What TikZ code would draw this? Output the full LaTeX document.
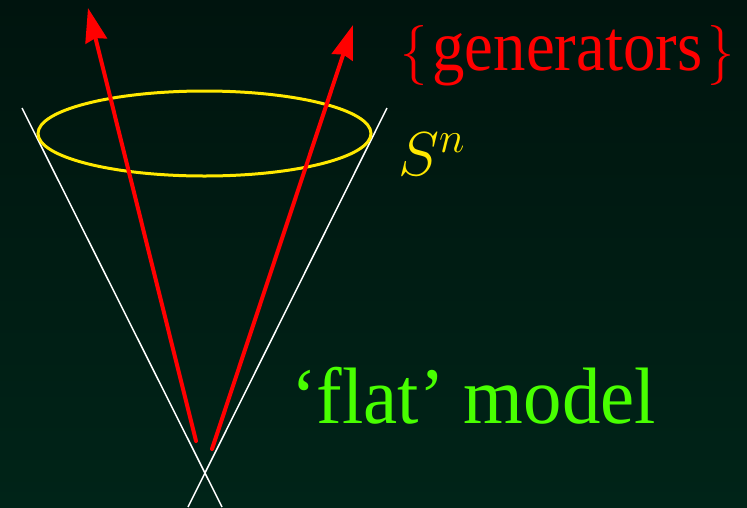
\documentclass[tikz,border=0pt]{standalone}
\usepackage{fix-cm}
\usepackage{fontspec}
\setmainfont{Liberation Serif}
\usetikzlibrary{arrows.meta}
\definecolor{bgtop}{RGB}{0,20,14}
\definecolor{bgbot}{RGB}{0,36,24}
\definecolor{genred}{RGB}{255,0,0}
\definecolor{sphyellow}{RGB}{255,232,0}
\definecolor{flatgreen}{RGB}{72,255,0}

\begin{document}
\begin{tikzpicture}[x=1pt,y=-1pt,
    cone/.style={white, line width=1.5pt},
    gen/.style={-{Stealth[length=34pt,width=22pt,inset=3pt]}, genred, line width=4pt, line cap=round},
    sphere/.style={sphyellow, line width=3pt},
    lbl/.style={anchor=base west, inner sep=0pt}
]
    % Background
    \shade[top color=bgtop, bottom color=bgbot] (0,0) rectangle (747,507);
    \useasboundingbox (0,0) rectangle (747,507);

    % Light cone
    \coordinate (c1top) at (22,108);
    \coordinate (c1bot) at (222,507);
    \coordinate (c2top) at (387,108);
    \coordinate (c2bot) at (188,507);
    \draw[cone] (c1top) -- (c1bot);
    \draw[cone] (c2top) -- (c2bot);

    % The sphere
    \draw[sphere] (204.5,133.5) ellipse [x radius=166.5pt, y radius=42.5pt];

    % Generators
    \coordinate (g1tail) at (196,441);
    \coordinate (g1tip) at (88,8);
    \coordinate (g2tail) at (212,449);
    \coordinate (g2tip) at (353,25);
    \draw[gen] (g1tail) -- (g1tip);
    \draw[gen] (g2tail) -- (g2tip);

    % Labels
    \node[lbl, genred, xscale=0.9, font=\fontsize{72}{80}\selectfont] (gens) at (400,70)
        {{\fontsize{60}{66}\selectfont$\{$}\kern6pt generators\kern6pt{\fontsize{60}{66}\selectfont$\}$}};
    \node[lbl, sphyellow, font=\fontsize{62}{70}\selectfont] (sn) at (398,175) {$S^n$};
    \node[lbl, flatgreen, xscale=0.96, font=\fontsize{80}{88}\selectfont] (flat) at (291,423) {`flat' model};
\end{tikzpicture}
\end{document}
